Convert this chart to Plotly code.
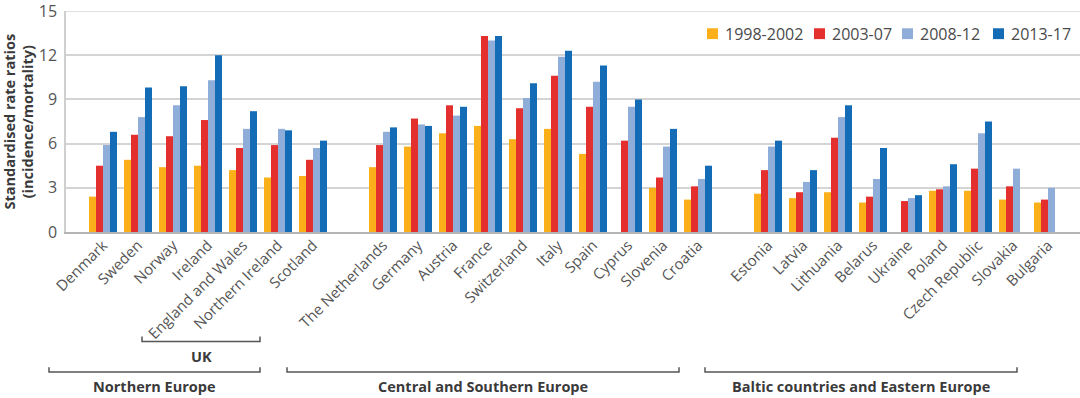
import plotly.graph_objects as go

# ---------------- data ----------------
northern = ["Denmark", "Sweden", "Norway", "Ireland", "England and Wales",
            "Northern Ireland", "Scotland"]
central = ["The Netherlands", "Germany", "Austria", "France", "Switzerland",
           "Italy", "Spain", "Cyprus", "Slovenia", "Croatia"]
eastern = ["Estonia", "Latvia", "Lithuania", "Belarus", "Ukraine", "Poland",
           "Czech Republic", "Slovakia", "Bulgaria"]
region_names = ["Northern Europe", "Central and Southern Europe",
                "Baltic countries and Eastern Europe"]

periods = ["1998-2002", "2003-07", "2008-12", "2013-17"]

p1998_2002 = [2.4, 4.9, 4.4, 4.5, 4.2, 3.7, 3.8,
              4.4, 5.8, 6.7, 7.2, 6.3, 7.0, 5.3, None, 3.0, 2.2,
              2.6, 2.3, 2.7, 2.0, None, 2.8, 2.8, 2.2, 2.0]
p2003_07 = [4.5, 6.6, 6.5, 7.6, 5.7, 5.9, 4.9,
            5.9, 7.7, 8.6, 13.3, 8.4, 10.6, 8.5, 6.2, 3.7, 3.1,
            4.2, 2.7, 6.4, 2.4, 2.1, 2.9, 4.3, 3.1, 2.2]
p2008_12 = [5.9, 7.8, 8.6, 10.3, 7.0, 7.0, 5.7,
            6.8, 7.3, 7.9, 13.0, 9.1, 11.9, 10.2, 8.5, 5.8, 3.6,
            5.8, 3.4, 7.8, 3.6, 2.3, 3.1, 6.7, 4.3, 3.0]
p2013_17 = [6.8, 9.8, 9.9, 12.0, 8.2, 6.9, 6.2,
            7.1, 7.2, 8.5, 13.3, 10.1, 12.3, 11.3, 9.0, 7.0, 4.5,
            6.2, 4.2, 8.6, 5.7, 2.5, 4.6, 7.5, None, None]
series = [p1998_2002, p2003_07, p2008_12, p2013_17]

y_ticks = [0, 3, 6, 9, 12, 15]

# ---------------- styles ----------------
colors = ["#FBB01A", "#E3302F", "#8FADD9", "#136CB5"]
FONT = "Open Sans"
GRID = "#d4d4d4"
W, H = 1080, 398
L, R, T, B = 66, 0, 8, 166
PW = W - L - R
PH = H - T - B
SLOT = 35.0
X0 = -(103 - L) / SLOT
X1 = X0 + PW / SLOT

# positions: one empty slot between regions
groups = [northern, central, eastern]
names, pos = [], []
p = 0
for g in groups:
    for c in g:
        names.append(c)
        pos.append(p)
        p += 1
    p += 1


def px(x):
    return (x - L) / PW


def py(y):
    return (T + PH - y) / PH


fig = go.Figure()
for name, vals, col in zip(periods, series, colors):
    fig.add_trace(go.Bar(x=pos, y=vals, name=name, marker_color=col,
                         marker_line_width=0, showlegend=False))

fig.update_layout(
    width=W, height=H,
    margin=dict(l=L, r=R, t=T, b=B, pad=0),
    paper_bgcolor="white", plot_bgcolor="white",
    barmode="group", bargap=0.2, bargroupgap=0.0,
    font=dict(family=FONT, color="#4a4a4a"),
    xaxis=dict(range=[X0, X1], tickvals=pos, ticktext=names, tickangle=-45,
               tickfont=dict(size=15, color="#555555", family=FONT),
               showgrid=False, zeroline=False, showline=True,
               linecolor="#b5b5b5", linewidth=1.5, ticks="",
               ticklabelstandoff=-3),
    yaxis=dict(range=[0, 15], tickvals=y_ticks, showgrid=True,
               gridcolor=GRID, gridwidth=1.5, zeroline=False,
               showline=True, linecolor="#cfcfcf", linewidth=1.5,
               tickfont=dict(size=16, color="#555555", family=FONT),
               ticklabelstandoff=4, ticklabeloverflow="allow"),
)

# top gridline (at the upper end of the range)
fig.add_shape(type="line", xref="paper", yref="y", x0=0, x1=1,
              y0=y_ticks[-1], y1=y_ticks[-1],
              line=dict(color=GRID, width=1.5), layer="below")

# y-axis title
fig.add_annotation(x=px(18), y=py(120), xref="paper", yref="paper",
                   text="<b>Standardised rate ratios<br>(incidence/mortality)</b>",
                   textangle=-90, showarrow=False,
                   font=dict(size=14.5, color="#3a3a3a", family=FONT),
                   xanchor="center", yanchor="middle")

# manual legend
leg_box_x = [707, 814, 902, 993]
for name, col, bx in zip(periods, colors, leg_box_x):
    fig.add_shape(type="rect", xref="paper", yref="paper",
                  x0=px(bx), x1=px(bx + 11), y0=py(36.5), y1=py(25.5),
                  fillcolor=col, line_width=0)
    fig.add_annotation(x=px(bx + 16), y=py(31), xref="paper", yref="paper",
                       text=name, showarrow=False, xanchor="left",
                       yanchor="middle",
                       font=dict(size=16, color="#4a4a4a", family=FONT))

# brackets
brackets = [
    ("UK", 142, 260, 343, 358),
    (region_names[0], 49, 260, 374, 389),
    (region_names[1], 287, 679, 374, 389),
    (region_names[2], 705, 1017, 374, 389),
]
for label, xa, xb, yl, yt in brackets:
    fig.add_shape(type="path", xref="paper", yref="paper",
                  path=f"M{px(xa)},{py(yl-5)} L{px(xa)},{py(yl)} L{px(xb)},{py(yl)} L{px(xb)},{py(yl-5)}",
                  line=dict(color="#555555", width=1.5))
    fig.add_annotation(x=px((xa + xb) / 2), y=py(yt), xref="paper", yref="paper",
                       text=f"<b>{label}</b>", showarrow=False,
                       xanchor="center", yanchor="middle",
                       font=dict(size=14.5, color="#3a3a3a", family=FONT))

fig.write_html("out.html", config={"displayModeBar": False},
               post_script="document.body.style.margin='0';document.body.style.overflow='hidden';")
